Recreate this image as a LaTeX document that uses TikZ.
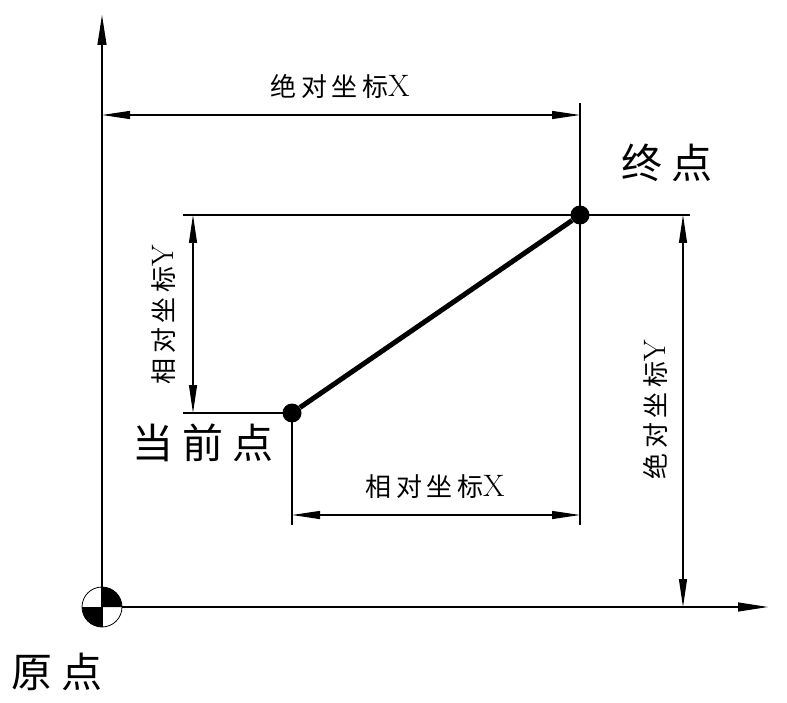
\documentclass[tikz,border=0pt]{standalone}
\usepackage{fontspec}
\newfontfamily\cjk{Noto Sans CJK SC}
\usetikzlibrary{arrows.meta}
\usetikzlibrary{positioning}
\newcommand{\cgap}{\hspace{4.5pt}}
\newcommand{\bgap}{\hspace{9pt}}
\newcommand{\latin}[1]{{\rmfamily\fontsize{31}{31}\selectfont #1}}

\begin{document}
\begin{tikzpicture}[x=1pt,y=-1pt,
			thinline/.style={line width=1.1pt},
			dim/.style={line width=1.1pt,{Triangle[length=28pt,width=8pt]}-{Triangle[length=28pt,width=8pt]}},
			axis/.style={line width=1.1pt,-{Triangle[length=30pt,width=9pt]}},
			smalllabel/.style={font=\cjk\fontsize{26}{26}\selectfont,inner sep=0pt},
			biglabel/.style={font=\cjk\fontsize{41}{41}\selectfont,inner sep=0pt},
			dot/.style={circle,fill,inner sep=0pt,minimum size=19pt}]
			\useasboundingbox (0,0) rectangle (787,703);
			
			% points
			\coordinate (O) at (102,607);
			\coordinate (ytip) at (102,15);
			\coordinate (xtip) at (768,607);
			\node[dot] (cur) at (292,413) {};
			\node[dot] (end) at (580,215) {};
			
			% extension lines
			\coordinate (topL) at (183,215);
			\coordinate (topR) at (690,215);
			\coordinate (botL) at (183,413);
			\coordinate (curB) at (292,525);
			\coordinate (endT) at (580,103);
			\coordinate (endB) at (580,525);
			\draw[thinline] (topL) -- (topR);
			\draw[thinline] (botL) -- (cur.center);
			\draw[thinline] (cur.center) -- (curB);
			\draw[thinline] (endT) -- (endB);
			
			% dimensions
			\coordinate (absXa) at (102,115);
			\coordinate (absXb) at (580,115);
			\coordinate (relYa) at (193,215);
			\coordinate (relYb) at (193,413);
			\coordinate (relXa) at (292,515);
			\coordinate (relXb) at (580,515);
			\coordinate (absYa) at (683,215);
			\coordinate (absYb) at (683,607);
			\draw[dim] (absXa) -- (absXb);
			\draw[dim] (relYa) -- (relYb);
			\draw[dim] (relXa) -- (relXb);
			\draw[dim] (absYa) -- (absYb);
			
			% axes
			\draw[axis] ([yshift=-20pt]O) -- (ytip);
			\draw[axis] ([xshift=20pt]O) -- (xtip);
			
			% path
			\draw[line width=5pt] (cur) -- (end);
			
			% origin mark
			\fill (O) -- ++(20,0) arc[start angle=0,end angle=-90,radius=20] -- cycle;
			\fill (O) -- ++(-20,0) arc[start angle=180,end angle=90,radius=20] -- cycle;
			\draw[line width=0.8pt] (O) circle[radius=20];
			
			% labels
			\node[smalllabel] (absXlab) at (340,86) {绝\cgap 对\cgap 坐\cgap 标\latin{X}};
			\node[smalllabel] (relXlab) at (435,487) {相\cgap 对\cgap 坐\cgap 标\latin{X}};
			\node[smalllabel,rotate=90] (relYlab) at (164,315) {相\cgap 对\cgap 坐\cgap 标\latin{Y}};
			\node[smalllabel,rotate=90] (absYlab) at (655,410) {绝\cgap 对\cgap 坐\cgap 标\latin{Y}};
			\node[biglabel] (orilab) at (57,672) {原\bgap 点};
			\node[biglabel] (curlab) at (203,443) {当\bgap 前\bgap 点};
			\node[biglabel] (endlab) at (667,163) {终\bgap 点};
		\end{tikzpicture}
\end{document}
